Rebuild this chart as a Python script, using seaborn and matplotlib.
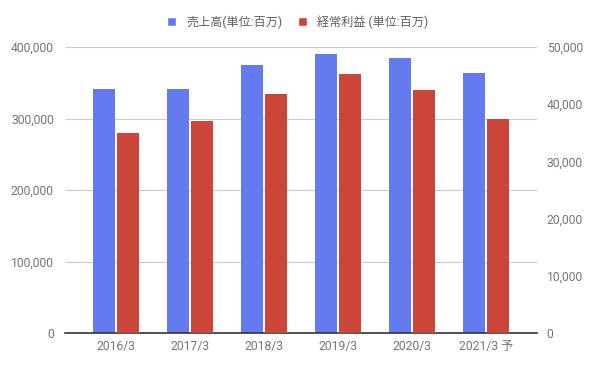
import numpy as np
import pandas as pd
import matplotlib
matplotlib.use("Agg")
import matplotlib.pyplot as plt
from matplotlib.patches import Patch
from matplotlib.ticker import FuncFormatter
import seaborn as sns

# data
years = ["2016/3", "2017/3", "2018/3", "2019/3", "2020/3", "2021/3 予"]
sales = [341000, 341000, 374500, 390000, 384000, 363000]      # 売上高 (left axis)
ordinary_profit = [34900, 37000, 41800, 45300, 42500, 37500]  # 経常利益 (right axis)

sales_label = "売上高(単位:百万)"
profit_label = "経常利益 (単位:百万)"

BLUE = "#637BEF"
RED = "#CC4539"
TICK_GRAY = "#757575"

sns.set_theme(style="white")
plt.rcParams['font.family'] = ['Roboto', 'Noto Sans CJK JP', 'DejaVu Sans']

fig = plt.figure(figsize=(5.96, 3.69), dpi=100)
ax = fig.add_axes([65 / 596, 36 / 369, 472 / 596, 286 / 369])
ax2 = ax.twinx()

pos = np.arange(len(years))
offset = 0.162
bar_w = 0.293

df = pd.DataFrame({"pos": pos, "sales": sales, "profit": ordinary_profit})

sns.barplot(x=df["pos"] - offset, y=df["sales"], native_scale=True, width=bar_w,
            color=BLUE, saturation=1, errorbar=None, linewidth=0, ax=ax)
sns.barplot(x=df["pos"] + offset, y=df["profit"], native_scale=True, width=bar_w,
            color=RED, saturation=1, errorbar=None, linewidth=0, ax=ax2)

for a in (ax, ax2):
    a.set_xlim(-0.692, 5.686)
    a.set_xlabel("")
    a.set_ylabel("")
    for s in a.spines.values():
        s.set_visible(False)
    a.tick_params(length=0, labelsize=8.7, labelcolor=TICK_GRAY)

ax.set_ylim(0, 400000)
ax.set_yticks(np.arange(0, 400001, 100000))
ax2.set_ylim(0, 50000)
ax2.set_yticks(np.arange(0, 50001, 10000))
fmt = FuncFormatter(lambda v, _: f"{int(v):,}")
ax.yaxis.set_major_formatter(fmt)
ax2.yaxis.set_major_formatter(fmt)
ax.tick_params(axis="y", pad=8)
ax2.tick_params(axis="y", pad=7)

ax.set_xticks(pos)
ax.set_xticklabels(years)
ax.tick_params(axis="x", pad=5)

ax.yaxis.grid(True, color="#cccccc", linewidth=0.8)
ax.set_axisbelow(True)
ax2.grid(False)
ax.spines["bottom"].set_visible(True)
ax.spines["bottom"].set_color("#333333")
ax.spines["bottom"].set_linewidth(1.2)

handles = [Patch(facecolor=BLUE, label=sales_label), Patch(facecolor=RED, label=profit_label)]
fig.legend(handles=handles, loc="center", bbox_to_anchor=(0.5, 0.94), ncol=2, frameon=False,
           fontsize=8.7, labelcolor="#5f5f5f", handlelength=0.75, handleheight=0.75,
           handletextpad=0.85, columnspacing=1.25)

fig.savefig("out.png", dpi=100)
